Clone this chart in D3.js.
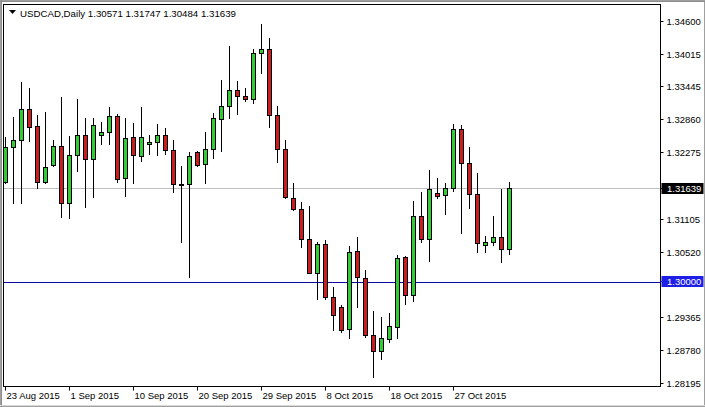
<!DOCTYPE html>
<html>
<head>
<meta charset="utf-8">
<script src="https://cdn.jsdelivr.net/npm/d3@7/dist/d3.min.js"></script>
<style>
  html, body { margin: 0; padding: 0; background: #fff; }
  svg { display: block; }
  text { font-family: "Liberation Sans", Arial, sans-serif; }
</style>
</head>
<body>
<svg id="chart" width="705" height="407"></svg>
<script>
// ---- data ----
const dates = [
  "2015-08-23","2015-08-24","2015-08-25","2015-08-26","2015-08-27","2015-08-28","2015-08-30","2015-08-31",
  "2015-09-01","2015-09-02","2015-09-03","2015-09-04","2015-09-06","2015-09-07","2015-09-08","2015-09-09",
  "2015-09-10","2015-09-11","2015-09-13","2015-09-14","2015-09-15","2015-09-16","2015-09-17","2015-09-18",
  "2015-09-20","2015-09-21","2015-09-22","2015-09-23","2015-09-24","2015-09-25","2015-09-27","2015-09-28",
  "2015-09-29","2015-09-30","2015-10-01","2015-10-02","2015-10-04","2015-10-05","2015-10-06","2015-10-07",
  "2015-10-08","2015-10-09","2015-10-11","2015-10-12","2015-10-13","2015-10-14","2015-10-15","2015-10-16",
  "2015-10-18","2015-10-19","2015-10-20","2015-10-21","2015-10-22","2015-10-23","2015-10-25","2015-10-26",
  "2015-10-27","2015-10-28","2015-10-29","2015-10-30","2015-11-01","2015-11-02","2015-11-03","2015-11-04"
];
const open = [
  1.31747,1.32365,1.32489,1.33041,1.32741,1.31747,1.32052,1.32388,1.31376,1.32229,1.32582,1.32153,1.32577,1.32630,1.32917,1.31817,
  1.32541,1.32216,1.32418,1.32453,1.32577,1.32312,1.31706,1.31711,1.32282,1.32064,1.32329,1.32859,1.33094,1.33371,1.33265,1.33212,
  1.34025,1.34096,1.32935,1.32329,1.31464,1.31270,1.30740,1.30140,1.30652,1.29716,1.29539,1.29151,1.30533,1.30062,1.29045,1.28762,
  1.28985,1.29197,1.30427,1.29751,1.31151,1.30740,1.31552,1.31517,1.31641,1.32683,1.32082,1.31535,1.30634,1.30698,1.30786,1.30571
];
const high = [
  1.32541,1.32905,1.33523,1.33417,1.32935,1.32993,1.32494,1.33258,1.32564,1.33218,1.32877,1.32877,1.32817,1.33082,1.32947,1.32877,
  1.32785,1.33082,1.32582,1.32776,1.32700,1.32494,1.32034,1.32282,1.32299,1.32640,1.32965,1.33553,1.34154,1.33536,1.33407,1.34101,
  1.34542,1.34290,1.33094,1.32494,1.31729,1.31404,1.31328,1.30698,1.30728,1.29892,1.29580,1.30627,1.30786,1.30198,1.29479,1.29363,
  1.29433,1.30454,1.30450,1.31422,1.31581,1.31964,1.31817,1.31729,1.32776,1.32759,1.32375,1.31916,1.30798,1.31151,1.31623,1.31747
];
const low = [
  1.31725,1.31376,1.31386,1.32481,1.31641,1.31740,1.32040,1.31139,1.31121,1.31951,1.31316,1.31492,1.32423,1.32418,1.31747,1.31510,
  1.31729,1.32128,1.32241,1.32229,1.32241,1.31570,1.30698,1.30080,1.32040,1.31729,1.32170,1.32305,1.32877,1.32947,1.33182,1.33142,
  1.33682,1.32729,1.32110,1.31475,1.31257,1.30609,1.30136,1.29680,1.29686,1.29138,1.29108,1.28992,1.29539,1.29020,1.28303,1.28621,
  1.28932,1.28992,1.29597,1.29656,1.30698,1.30362,1.31464,1.31181,1.31598,1.30846,1.31298,1.30521,1.30521,1.30639,1.30344,1.30484
];
const close = [
  1.32375,1.32494,1.33041,1.32729,1.31747,1.32012,1.32388,1.31376,1.32229,1.32582,1.32153,1.32759,1.32630,1.32917,1.31800,1.32529,
  1.32220,1.32541,1.32458,1.32582,1.32312,1.31711,1.31716,1.32206,1.32052,1.32329,1.32877,1.33094,1.33371,1.33265,1.33212,1.34025,
  1.34096,1.32926,1.32329,1.31482,1.31270,1.30740,1.30140,1.30652,1.29716,1.29398,1.29138,1.30521,1.30069,1.29045,1.28762,1.28992,
  1.29209,1.30404,1.29751,1.31151,1.30740,1.31628,1.31510,1.31641,1.32683,1.32082,1.31535,1.30669,1.30698,1.30786,1.30571,1.31639
];
const yTicks = [1.34600,1.34015,1.33445,1.32860,1.32275,1.31105,1.30520,1.29365,1.28780,1.28195];
const xTickIndex = [0,8,16,24,32,40,48,56];
const symbol = "USDCAD,Daily";
const bidPrice = 1.31639;
const levelPrice = 1.30000;

// ---- layout ----
const svg = d3.select("#chart");
const W = 705, H = 407;
const plot = { left: 3.5, top: 4.5, right: 660.5, bottom: 386.5 };

const x = d3.scaleLinear().domain([0, 63]).range([5, 509]);
const y = d3.scaleLinear().domain([1.28131, 1.34895]).range([387, 4]);

// window border
svg.append("rect").attr("x", 0.5).attr("y", 0.5).attr("width", W - 1).attr("height", H - 1)
  .attr("fill", "#fff").attr("stroke", "#a0a0a0").attr("stroke-width", 1);
svg.append("line").attr("x1", 0).attr("x2", W).attr("y1", 1.5).attr("y2", 1.5).attr("stroke", "#8c8c8c");
svg.append("line").attr("x1", 1.5).attr("x2", 1.5).attr("y1", 0).attr("y2", H).attr("stroke", "#8c8c8c");
svg.append("line").attr("x1", 0).attr("x2", W).attr("y1", H - 1.5).attr("y2", H - 1.5).attr("stroke", "#d8d8d8");

// horizontal price lines
const snap = v => Math.round(v) + 0.5;
svg.append("line").attr("x1", plot.left).attr("x2", plot.right)
  .attr("y1", snap(y(bidPrice))).attr("y2", snap(y(bidPrice)))
  .attr("stroke", "#c0c0c0").attr("stroke-width", 1);
svg.append("line").attr("x1", plot.left).attr("x2", plot.right)
  .attr("y1", snap(y(levelPrice)) + 1).attr("y2", snap(y(levelPrice)) + 1)
  .attr("stroke", "#0a0aa0").attr("stroke-width", 1);

// candles
const bars = d3.range(dates.length).map(i => ({ i, o: open[i], h: high[i], l: low[i], c: close[i] }));
const g = svg.append("g");
bars.forEach(d => {
  const cx = Math.round(x(d.i)) + 0.5;
  g.append("line").attr("x1", cx).attr("x2", cx)
    .attr("y1", Math.round(y(d.h))).attr("y2", Math.round(y(d.l)) + 1)
    .attr("stroke", "#000").attr("stroke-width", 1);
  const yTop = Math.round(y(Math.max(d.o, d.c)));
  const yBot = Math.round(y(Math.min(d.o, d.c)));
  const bull = d.c >= d.o;
  if (yBot - yTop < 1) {
    g.append("line").attr("x1", cx - 3).attr("x2", cx + 3)
      .attr("y1", yTop + 0.5).attr("y2", yTop + 0.5).attr("stroke", "#000");
  } else {
    g.append("rect").attr("x", cx - 2).attr("y", yTop + 0.5)
      .attr("width", 4).attr("height", yBot - yTop)
      .attr("fill", bull ? "#32cd32" : "#c81e1e")
      .attr("stroke", "#000").attr("stroke-width", 1);
  }
});

// frame
svg.append("rect").attr("x", plot.left).attr("y", plot.top)
  .attr("width", plot.right - plot.left).attr("height", plot.bottom - plot.top)
  .attr("fill", "none").attr("stroke", "#000").attr("stroke-width", 1);

// right axis
const yAxis = d3.axisRight(y).tickValues(yTicks).tickSize(3).tickPadding(3)
  .tickFormat(d3.format(".5f"));
const ya = svg.append("g").attr("transform", `translate(${plot.right},0)`).call(yAxis);
ya.select(".domain").remove();
ya.selectAll(".tick line").attr("stroke", "#000");
ya.selectAll(".tick text").attr("font-size", "9.5px").attr("fill", "#000")
  .attr("font-family", "Liberation Sans, Arial, sans-serif");
ya.selectAll(".tick").attr("transform", d => `translate(0,${Math.round(y(d)) + 0.5})`);

// price labels
function priceLabel(v, bg) {
  const cy = Math.round(y(v));
  svg.append("rect").attr("x", plot.right + 1).attr("y", cy - 5)
    .attr("width", 42).attr("height", 11).attr("fill", bg);
  svg.append("line").attr("x1", plot.right).attr("x2", plot.right + 4)
    .attr("y1", cy + 0.5).attr("y2", cy + 0.5).attr("stroke", bg);
  svg.append("text").attr("x", plot.right + 6.5).attr("y", cy + 0.5).attr("dy", "0.34em")
    .attr("font-size", "9.5px").attr("fill", "#fff").text(d3.format(".5f")(v));
}
priceLabel(bidPrice, "#000");
priceLabel(levelPrice, "#1e1ee6");

// bottom axis
const parse = d3.timeParse("%Y-%m-%d");
const fmt = d3.timeFormat("%-d %b %Y");
const xAxis = d3.axisBottom(x).tickValues(xTickIndex).tickSize(4).tickPadding(2)
  .tickFormat(i => fmt(parse(dates[i])));
const xa = svg.append("g").attr("transform", `translate(0,${plot.bottom})`).call(xAxis);
xa.select(".domain").remove();
xa.selectAll(".tick").attr("transform", d => `translate(${Math.round(x(d)) + 0.5},0)`);
xa.selectAll(".tick line").attr("stroke", "#000");
xa.selectAll(".tick text").attr("text-anchor", "start").attr("x", 1)
  .attr("font-size", "9.5px").attr("fill", "#000")
  .attr("font-family", "Liberation Sans, Arial, sans-serif");

// header
const n = dates.length - 1;
svg.append("path").attr("d", "M9,10 L16,10 L12.5,14 Z").attr("fill", "#000");
svg.append("text").attr("x", 20).attr("y", 16.5).attr("font-size", "9.7px").attr("fill", "#000")
  .text(`${symbol}  ${d3.format(".5f")(open[n])} ${d3.format(".5f")(high[n])} ${d3.format(".5f")(low[n])} ${d3.format(".5f")(close[n])}`);
</script>
</body>
</html>
